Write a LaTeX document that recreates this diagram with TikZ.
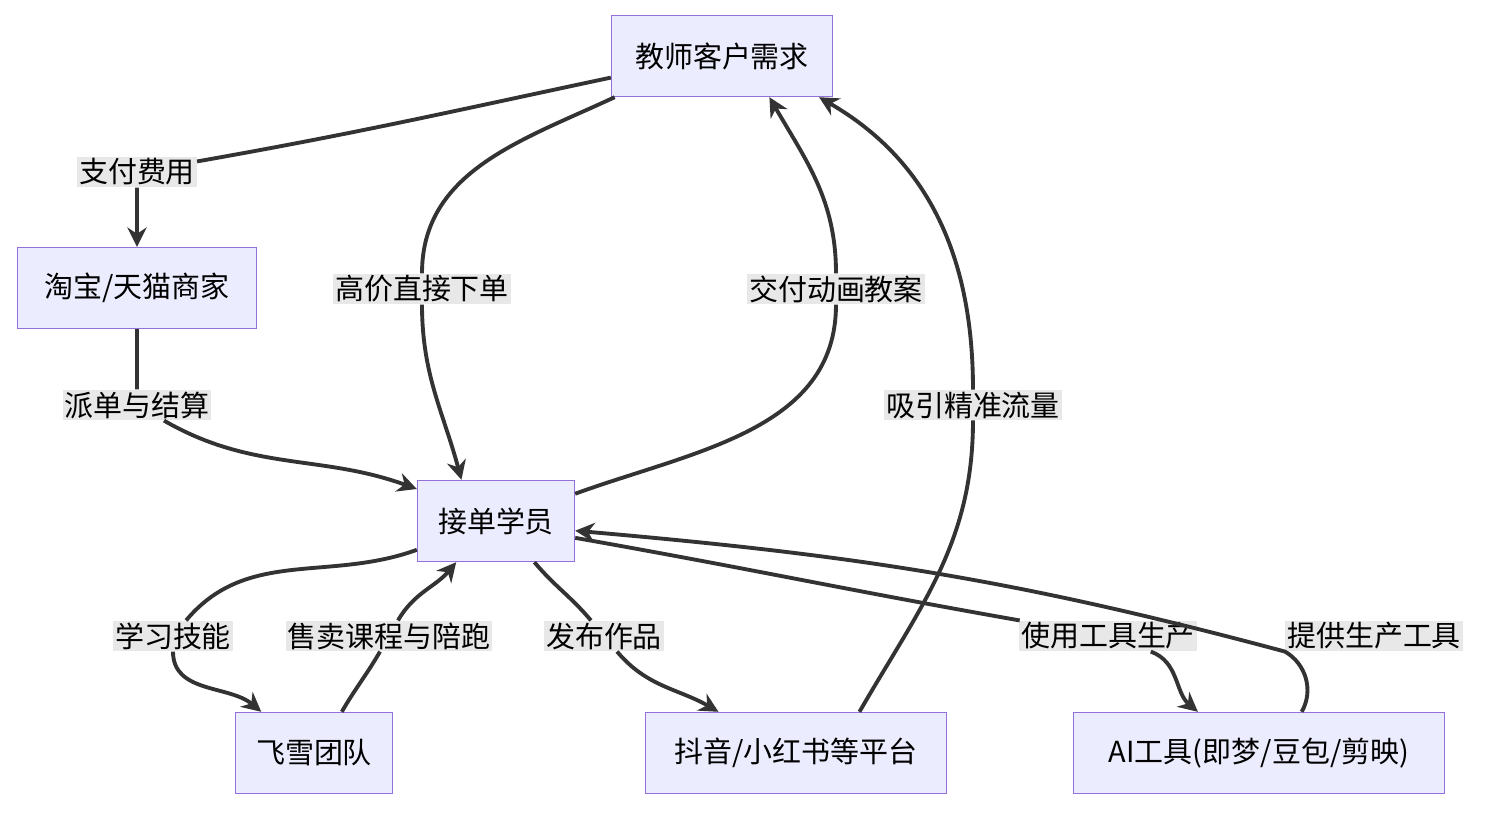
\documentclass[tikz,border=0pt]{standalone}
\usepackage{fontspec}
\setmainfont{Noto Sans CJK SC}
\usetikzlibrary{arrows.meta}
\definecolor{boxfill}{RGB}{236,236,255}
\definecolor{boxline}{RGB}{147,112,219}
\definecolor{edgeline}{RGB}{51,51,51}
\definecolor{lblfill}{RGB}{232,232,232}
\tikzset{
  box/.style={draw=boxline,fill=boxfill,line width=0.8pt,minimum height=1.62cm,inner xsep=0.3cm,font=\fontsize{16.5}{19}\selectfont},
  lbl/.style={fill=lblfill,inner sep=1pt,font=\fontsize{16.5}{19}\selectfont},
  edge/.style={draw=edgeline,line width=2.2pt,-{Stealth[length=11pt,width=11pt]}}
}
\begin{document}
\begin{tikzpicture}[x=0.02cm,y=-0.02cm]
  \useasboundingbox (0,0) rectangle (1488,812);
  \node[box,minimum width=4.42cm] (teach) at (722,56) {教师客户需求};
  \node[box,minimum width=4.78cm] (shop) at (137,288) {淘宝/天猫商家};
  \node[box,minimum width=3.14cm] (stud) at (496,521) {接单学员};
  \node[box,minimum width=3.14cm] (team) at (314,753) {飞雪团队};
  \node[box,minimum width=6.02cm] (plat) at (796,753) {抖音/小红书等平台};
  \node[box,minimum width=7.42cm] (tool) at (1259,753) {AI工具(即梦/豆包/剪映)};

  \node[lbl] (pay) at (137,172) {支付费用};
  \node[lbl] (order) at (422,289) {高价直接下单};
  \node[lbl] (give) at (836,289) {交付动画教案};
  \node[lbl] (flow) at (973,405) {吸引精准流量};
  \node[lbl] (assign) at (137,405) {派单与结算};
  \node[lbl] (learn) at (173,636) {学习技能};
  \node[lbl] (sell) at (389,636) {售卖课程与陪跑};
  \node[lbl] (post) at (604,636) {发布作品};
  \node[lbl] (use) at (1108,636) {使用工具生产};
  \node[lbl] (supply) at (1374,636) {提供生产工具};

  \draw[edge] (teach.191) to[out=192,in=10] (pay) to[out=-90,in=90] (shop.north);
  \draw[edge] (teach.201) to[out=205,in=90] (order) to[out=-90,in=105] (stud.130);
  \draw[edge] (stud.19.5) to[out=20,in=-90] (give) to[out=90,in=-60] (teach.319.5);
  \draw[edge] (plat.33) to[out=60,in=-90] (flow) to[out=90,in=-30] (teach.337);
  \draw[edge] (shop.south) to[out=-90,in=90] (assign) to[out=-30,in=160] (stud.158);
  \draw[edge] (stud.200) to[out=200,in=50] (learn) to[out=-90,in=140] (team.142);
  \draw[edge] (team.56) to[out=60,in=-120] (sell) to[out=60,in=-130] (stud.226);
  \draw[edge] (stud.313) to[out=-50,in=130] (post) to[out=-50,in=150] (plat.152);
  \draw[edge] (stud.348) to[out=-10,in=170] (use) to[out=-20,in=140] (tool.146);
  \draw[edge] (tool.44) to[out=60,in=-30] (supply.south west) to[out=165,in=-5] (stud.353.5);
\end{tikzpicture}
\end{document}
